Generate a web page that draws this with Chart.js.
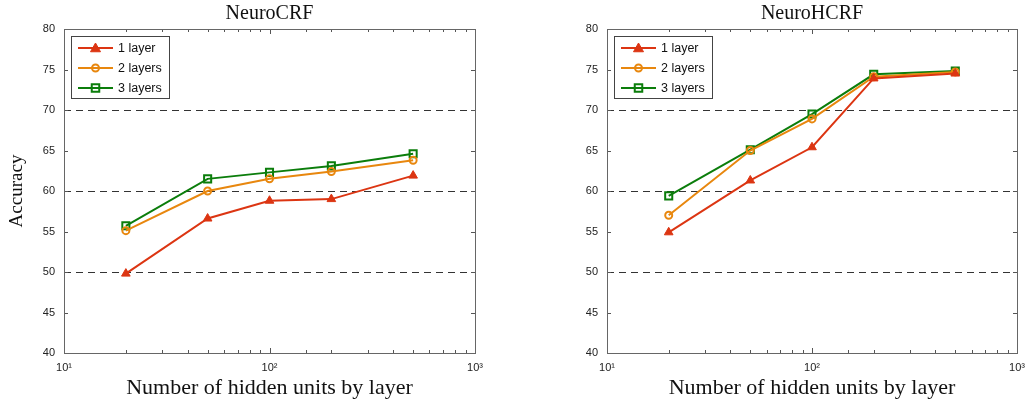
<!DOCTYPE html>
<html>
<head>
<meta charset="utf-8">
<script src="https://cdn.jsdelivr.net/npm/chart.js@4.4.1/dist/chart.umd.min.js"></script>
<style>
  html, body { margin: 0; padding: 0; background: #fff; }
  #wrap { position: relative; width: 1026px; height: 402px; }
  .box { position: absolute; top: 0; width: 513px; height: 402px; }
</style>
</head>
<body>
<div id="wrap">
  <div class="box" style="left:0"><canvas id="crf"></canvas></div>
  <div class="box" style="left:513px"><canvas id="hcrf"></canvas></div>
</div>
<script>
// hidden units per layer (x positions)
const hiddenUnits = [20, 50, 100, 200, 500];
const seriesLabels = ['1 layer', '2 layers', '3 layers'];

// NeuroCRF accuracy
const crf1 = [49.8, 56.6, 58.8, 59.0, 61.9];
const crf2 = [55.1, 60.0, 61.5, 62.4, 63.8];
const crf3 = [55.7, 61.5, 62.3, 63.1, 64.6];

// NeuroHCRF accuracy
const hcrf1 = [54.9, 61.3, 65.4, 73.9, 74.5];
const hcrf2 = [57.0, 65.0, 68.9, 74.1, 74.7];
const hcrf3 = [59.4, 65.1, 69.5, 74.4, 74.8];

const dashedAt = [50, 60, 70];
const xTickLabels = { 10: '10\u00b9', 100: '10\u00b2', 1000: '10\u00b3' };

const colors = ['#dc3512', '#e8870e', '#0b7d0b'];
const serif = "'Liberation Serif', 'DejaVu Serif', serif";
const sans = "'Liberation Sans', Arial, sans-serif";

function makeSets(vals) {
    const styles = [
        { pointStyle: 'triangle', radius: 5, fill: colors[0] },
        { pointStyle: 'circle', radius: 3.5, fill: 'rgba(255,255,255,0)' },
        { pointStyle: 'rect', radius: 5, fill: 'rgba(255,255,255,0)' }
    ];
    return vals.map((v, i) => ({
        label: seriesLabels[i],
        data: hiddenUnits.map((u, j) => ({ x: u, y: v[j] })),
        borderColor: colors[i],
        backgroundColor: styles[i].fill,
        borderWidth: 2,
        pointStyle: styles[i].pointStyle,
        pointRadius: styles[i].radius,
        pointBorderWidth: i === 0 ? 1 : 2,
        pointBorderColor: colors[i],
        pointBackgroundColor: styles[i].fill,
        tension: 0
    }));
}

function drawMarker(ctx, ds, x, y) {
    const r = ds.pointRadius;
    if (ds.pointStyle === 'triangle') {
        ctx.moveTo(x, y - r);
        ctx.lineTo(x + r, y + r * 0.75);
        ctx.lineTo(x - r, y + r * 0.75);
        ctx.closePath();
    } else if (ds.pointStyle === 'circle') {
        ctx.arc(x, y, r, 0, Math.PI * 2);
    } else {
        const s = r * 0.75;
        ctx.rect(x - s, y - s, s * 2, s * 2);
    }
    ctx.fill();
    ctx.stroke();
}

// frame, inward ticks, dashed reference lines, title and legend
const framePlugin = {
    id: 'frame',
    beforeDatasetsDraw(chart) {
        const { ctx, chartArea: a, scales } = chart;
        ctx.save();
        ctx.strokeStyle = '#333';
        ctx.lineWidth = 1;
        ctx.setLineDash([7, 5]);
        dashedAt.forEach(v => {
            const y = Math.round(scales.y.getPixelForValue(v)) + 0.5;
            ctx.beginPath();
            ctx.moveTo(a.left, y);
            ctx.lineTo(a.right, y);
            ctx.stroke();
        });
        ctx.setLineDash([]);
        ctx.strokeStyle = '#555';
        scales.y.ticks.forEach(t => {
            const y = Math.round(scales.y.getPixelForValue(t.value)) + 0.5;
            ctx.beginPath();
            ctx.moveTo(a.left, y); ctx.lineTo(a.left + 4, y);
            ctx.moveTo(a.right, y); ctx.lineTo(a.right - 4, y);
            ctx.stroke();
        });
        scales.x.ticks.forEach(t => {
            const x = Math.round(scales.x.getPixelForValue(t.value)) + 0.5;
            const len = xTickLabels[t.value] ? 5 : 3;
            ctx.beginPath();
            ctx.moveTo(x, a.bottom); ctx.lineTo(x, a.bottom - len);
            ctx.moveTo(x, a.top); ctx.lineTo(x, a.top + len);
            ctx.stroke();
        });
        ctx.strokeStyle = '#666';
        ctx.strokeRect(Math.round(a.left) + 0.5, Math.round(a.top) + 0.5,
            Math.round(a.right - a.left), Math.round(a.bottom - a.top));
        ctx.restore();
    },
    afterDraw(chart, args, opts) {
        const { ctx, chartArea: a } = chart;
        ctx.save();
        // title
        ctx.fillStyle = '#111';
        ctx.font = '20px ' + serif;
        ctx.textAlign = 'center';
        ctx.textBaseline = 'middle';
        ctx.fillText(opts.title, (a.left + a.right) / 2, 14);

        // legend box
        const bx = a.left + 7, by = a.top + 7, bw = 98, bh = 62;
        ctx.fillStyle = '#fff';
        ctx.fillRect(bx, by, bw, bh);
        ctx.strokeStyle = '#444';
        ctx.lineWidth = 1;
        ctx.strokeRect(bx + 0.5, by + 0.5, bw, bh);
        ctx.font = '12.5px ' + sans;
        ctx.textAlign = 'left';
        chart.data.datasets.forEach((ds, i) => {
            const y = by + 12 + i * 20;
            ctx.strokeStyle = ds.borderColor;
            ctx.lineWidth = 2;
            ctx.beginPath();
            ctx.moveTo(bx + 7, y);
            ctx.lineTo(bx + 42, y);
            ctx.stroke();
            ctx.fillStyle = ds.pointBackgroundColor;
            ctx.strokeStyle = ds.borderColor;
            ctx.lineWidth = ds.pointBorderWidth;
            ctx.beginPath();
            drawMarker(ctx, ds, bx + 24.5, y);
            ctx.fillStyle = '#111';
            ctx.fillText(ds.label, bx + 47, y + 1);
        });
        ctx.restore();
    }
};

function buildChart(id, title, vals, plotLeft, plotRight, showYTitle) {
    return new Chart(document.getElementById(id), {
        type: 'line',
        data: { datasets: makeSets(vals) },
        plugins: [framePlugin],
        options: {
            responsive: true,
            maintainAspectRatio: false,
            animation: false,
            layout: { padding: { top: 29, right: 513 - plotRight, left: 0, bottom: 0 } },
            plugins: {
                legend: { display: false },
                tooltip: { enabled: false },
                frame: { title: title }
            },
            scales: {
                x: {
                    type: 'logarithmic',
                    min: 10,
                    max: 1000,
                    grid: { display: false, drawTicks: false },
                    border: { display: false },
                    afterFit: s => { s.height = 49; s.paddingLeft = 0; s.paddingRight = 0; },
                    ticks: {
                        autoSkip: false,
                        maxRotation: 0,
                        padding: 8,
                        color: '#222',
                        font: { family: sans, size: 11 },
                        callback: v => xTickLabels[v] || ''
                    },
                    title: {
                        display: true,
                        text: 'Number of hidden units by layer',
                        color: '#111',
                        font: { family: serif, size: 22 },
                        padding: { top: 0, bottom: 1 }
                    }
                },
                y: {
                    min: 40,
                    max: 80,
                    grid: { display: false, drawTicks: false },
                    border: { display: false },
                    afterFit: s => { s.width = plotLeft; },
                    ticks: {
                        stepSize: 5,
                        padding: 9,
                        color: '#222',
                        font: { family: sans, size: 11 }
                    },
                    title: {
                        display: showYTitle,
                        text: 'Accuracy',
                        color: '#111',
                        font: { family: serif, size: 19 },
                        padding: { top: 6, bottom: 0 }
                    }
                }
            }
        }
    });
}

buildChart('crf', 'NeuroCRF', [crf1, crf2, crf3], 64, 475, true);
buildChart('hcrf', 'NeuroHCRF', [hcrf1, hcrf2, hcrf3], 94, 504, false);
</script>
</body>
</html>
